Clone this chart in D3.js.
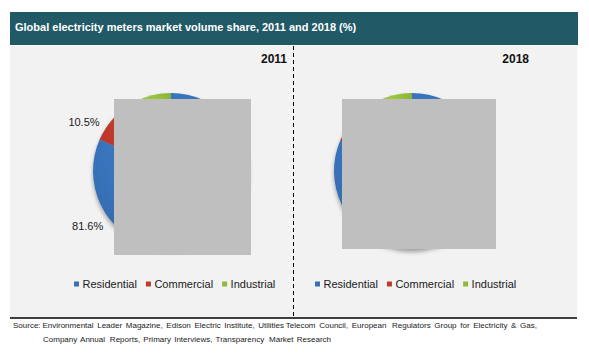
<!DOCTYPE html>
<html><head><meta charset="utf-8">
<script src="https://cdn.jsdelivr.net/npm/d3@7"></script>
<style>html,body{margin:0;padding:0;background:#fff;}svg{display:block;font-family:Arial,"Liberation Sans",sans-serif;}</style>
</head><body>
<svg id="c" width="589" height="356"></svg>
<script>
const title = "Global electricity meters market volume share, 2011 and 2018 (%)";
const categories = ["Residential", "Commercial", "Industrial"];
const years = ["2011", "2018"];
const values2011 = [81.6, 10.5, 7.9];
const values2018 = [81.4, 10.8, 7.8];
const shownLabels2011 = ["81.6%", "10.5%", ""];
const shownLabels2018 = ["", "", ""];
const colors = ["#3a76c0", "#c0392f", "#9bc43c"];
const legendColors = ["#3b6fb6", "#c0392f", "#8fb83c"];
const sourceLines = [
  "Source: Environmental  Leader  Magazine,  Edison  Electric  Institute,  Utilities Telecom  Council,  European   Regulators  Group  for  Electricity  &  Gas,",
  "Company  Annual   Reports,  Primary  Interviews,  Transparency   Market  Research"
];

const svg = d3.select("#c");
const defs = svg.append("defs");
const f = defs.append("filter").attr("id","sh").attr("x","-20%").attr("y","-20%").attr("width","140%").attr("height","150%");
f.append("feDropShadow").attr("dx",0).attr("dy",3).attr("stdDeviation",2.2).attr("flood-color","#000").attr("flood-opacity",0.35);
colors.forEach((c,i)=>{
  const g = defs.append("radialGradient").attr("id","g"+i).attr("cx","45%").attr("cy","35%").attr("r","70%");
  g.append("stop").attr("offset","0%").attr("stop-color", d3.color(c).brighter(0.25));
  g.append("stop").attr("offset","100%").attr("stop-color", d3.color(c).darker(0.35));
});

// title bar
svg.append("rect").attr("x",10).attr("y",12).attr("width",568).attr("height",33).attr("fill","#215967");
svg.append("text").attr("x",15).attr("y",31).attr("fill","#fff").attr("font-size",11).attr("font-weight","bold").text(title);

// panel
svg.append("rect").attr("x",10).attr("y",46).attr("width",567).attr("height",272).attr("fill","#f2f2f2");
svg.append("line").attr("x1",10).attr("x2",577).attr("y1",318).attr("y2",318).attr("stroke","#000").attr("stroke-width",1.5);
svg.append("line").attr("x1",293.5).attr("x2",293.5).attr("y1",46).attr("y2",317).attr("stroke","#000").attr("stroke-width",1).attr("stroke-dasharray","4,3");

const panels = [
  {year: years[0], vals: values2011, labels: shownLabels2011, cx: 171, cy: 171, yearX: 287, legendX: 74,
   labelAngles: [236.5, 299.5, 346], box:[114,99,137,156]},
  {year: years[1], vals: values2018, labels: shownLabels2018, cx: 412, cy: 171, yearX: 529, legendX: 315,
   labelAngles: [236.5, 299.5, 346], box:[342,99,154,150]}
];
const r = 78;
const pie = d3.pie().sort(null).value(d=>d);
const arc = d3.arc().innerRadius(0).outerRadius(r);

panels.forEach(p=>{
  const g = svg.append("g").attr("transform",`translate(${p.cx},${p.cy})`);
  const arcs = pie(p.vals);
  g.append("g").attr("filter","url(#sh)").selectAll("path").data(arcs).join("path")
    .attr("d",arc).attr("fill",(d,i)=>`url(#g${i})`);
  arcs.forEach((d,i)=>{
    if(!p.labels[i]) return;
    const a = p.labelAngles[i]*Math.PI/180, lr = 100;
    g.append("text").attr("x", lr*Math.sin(a)).attr("y", -lr*Math.cos(a)+4)
      .attr("text-anchor","middle").attr("font-size",11).attr("fill","#1a1a1a").text(p.labels[i]);
  });
  svg.append("text").attr("x",p.yearX).attr("y",62.5).attr("text-anchor","end")
    .attr("font-size",12).attr("font-weight","bold").attr("fill","#111").text(p.year);
  svg.append("rect").attr("x",p.box[0]).attr("y",p.box[1]).attr("width",p.box[2]).attr("height",p.box[3]).attr("fill","#bfbfbf");
  const lg = svg.append("g").attr("transform",`translate(${p.legendX},284)`);
  let x = 0;
  categories.forEach((c,i)=>{
    lg.append("rect").attr("x",x).attr("y",-2.5).attr("width",5).attr("height",5).attr("fill",legendColors[i]);
    const t = lg.append("text").attr("x",x+8.5).attr("y",4).attr("font-size",11).attr("fill","#1a1a1a").text(c);
    x += 8.5 + t.node().getComputedTextLength() + 9;
  });
});

const srcTargets = [[13,537,328],[43,331,342]];
sourceLines.forEach((s,i)=>{
  const t = svg.append("text").attr("x",srcTargets[i][0]).attr("y",srcTargets[i][2])
    .attr("font-size",8).attr("fill","#1a1a1a").style("white-space","pre").text(s);
  const w = t.node().getComputedTextLength();
  const spaces = (s.match(/ /g)||[]).length;
  const target = srcTargets[i][1]-srcTargets[i][0];
  t.attr("word-spacing", (target-w)/spaces);
});
</script>
</body></html>
